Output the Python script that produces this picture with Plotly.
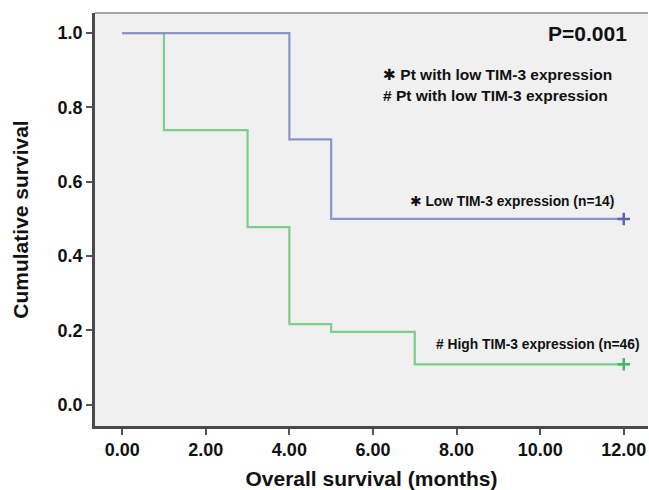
import plotly.graph_objects as go

# Kaplan-Meier step data (months, cumulative survival)
low_time = [0, 4, 4, 5, 5, 12]
low_surv = [1.0, 1.0, 0.714, 0.714, 0.5, 0.5]
high_time = [0, 1, 1, 3, 3, 4, 4, 5, 5, 7, 7, 12]
high_surv = [1.0, 1.0, 0.739, 0.739, 0.478, 0.478, 0.217, 0.217, 0.196, 0.196, 0.109, 0.109]
censor_time = [12]
low_censor = [0.5]
high_censor = [0.109]

x_ticks = [0, 2, 4, 6, 8, 10, 12]
x_ticktext = ["0.00", "2.00", "4.00", "6.00", "8.00", "10.00", "12.00"]
y_ticks = [0.0, 0.2, 0.4, 0.6, 0.8, 1.0]
y_ticktext = ["0.0", "0.2", "0.4", "0.6", "0.8", "1.0"]

FONT = "Arial, Liberation Sans, sans-serif"
BLUE = "#8a94cc"
BLUE_D = "#5866ad"
GREEN = "#7ccd8c"
GREEN_D = "#3fb85e"

fig = go.Figure()
fig.add_trace(go.Scatter(x=high_time, y=high_surv, mode="lines",
                         line=dict(color=GREEN, width=2.2), showlegend=False))
fig.add_trace(go.Scatter(x=low_time, y=low_surv, mode="lines",
                         line=dict(color=BLUE, width=2.2), showlegend=False))
fig.add_trace(go.Scatter(x=censor_time, y=low_censor, mode="markers",
                         marker=dict(symbol="cross-thin", size=9, line=dict(color=BLUE_D, width=2.5)),
                         showlegend=False))
fig.add_trace(go.Scatter(x=censor_time, y=high_censor, mode="markers",
                         marker=dict(symbol="cross-thin", size=9, line=dict(color=GREEN_D, width=2.5)),
                         showlegend=False))

star = '<span style="font-family:DejaVu Sans">\u2731</span>'
anns = [
    dict(x=12.12, y=1.0, text="<b>P=0.001</b>", xanchor="right", yanchor="middle",
         font=dict(size=21, color="#111")),
    dict(x=6.2, y=0.886, text="<b>" + star + " Pt with low TIM-3 expression</b>", xanchor="left", yanchor="middle",
         font=dict(size=15.5, color="#111")),
    dict(x=6.2, y=0.832, text="<b># Pt with low TIM-3 expression</b>", xanchor="left", yanchor="middle",
         font=dict(size=15.5, color="#111")),
    dict(x=6.83, y=0.547, text="<b>" + star + " Low TIM-3 expression (n=14)</b>", xanchor="left", yanchor="middle",
         font=dict(size=13.8, color="#111")),
    dict(x=7.45, y=0.162, text="<b># High TIM-3 expression (n=46)</b>", xanchor="left", yanchor="middle",
         font=dict(size=13.8, color="#111")),
]
for a in anns:
    a.update(xref="x", yref="y", showarrow=False)
fig.update_layout(annotations=anns)

fig.add_shape(type="line", xref="paper", yref="paper", x0=0, x1=1, y0=1, y1=1,
              line=dict(color="#8a8a8a", width=1.5))

fig.update_layout(
    width=649, height=490,
    margin=dict(l=95, r=1, t=13, b=64),
    paper_bgcolor="white", plot_bgcolor="#f0f0f0",
    font=dict(family=FONT, color="#111"),
    xaxis=dict(range=[-0.65, 12.58], tickvals=x_ticks, ticktext=x_ticktext,
               showgrid=False, zeroline=False, showline=True, linecolor="#4a4a4a", linewidth=2.5,
               ticks="outside", ticklen=6, tickwidth=2, tickcolor="#555",
               tickfont=dict(size=18, family=FONT, color="#111", weight="bold"),
               title=dict(text="<b>Overall survival (months)</b>", font=dict(size=21, family=FONT, color="#111"),
                          standoff=14)),
    yaxis=dict(range=[-0.057, 1.054], tickvals=y_ticks, ticktext=y_ticktext,
               showgrid=False, zeroline=False, showline=True, linecolor="#4a4a4a", linewidth=2.5,
               ticks="outside", ticklen=6, tickwidth=2, tickcolor="#555",
               tickfont=dict(size=18, family=FONT, color="#111", weight="bold"),
               title=dict(text="<b>Cumulative survival</b>", font=dict(size=21, family=FONT, color="#111"),
                          standoff=24)),
)

fig.write_html("out.html")
